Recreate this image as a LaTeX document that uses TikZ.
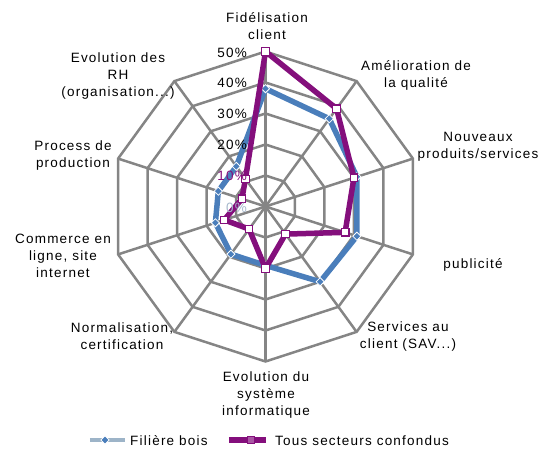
\documentclass[tikz,border=0pt]{standalone}
\usepackage{fontspec}
\setmainfont{Liberation Sans}[LetterSpace=9]
\definecolor{gridgray}{HTML}{858585}
\definecolor{serblue}{HTML}{4A7EBB}
\definecolor{serpurple}{HTML}{840F7C}
\definecolor{zerolbl}{HTML}{A6B8CC}
\definecolor{legblue}{HTML}{9DB4C8}
\tikzset{
  gridline/.style={draw=gridgray, line width=2.5pt, line join=miter},
  blueline/.style={draw=serblue, line width=5.5pt, line join=round},
  purpleline/.style={draw=serpurple, line width=5.5pt, line join=round},
  bluemark/.style={diamond, aspect=1, fill=serblue, draw=white, line width=0.8pt, inner sep=0pt, minimum size=8.5pt},
  purplemark/.style={rectangle, fill=white, draw=serpurple, line width=1.3pt, inner sep=0pt, minimum size=7.5pt},
  catlabel/.style={align=center, inner sep=0pt},
  pctlabel/.style={anchor=east, inner sep=0pt},
}
\usetikzlibrary{shapes.geometric}
\begin{document}
\begin{tikzpicture}[x=1pt,y=1pt, font=\fontsize{13.5}{17}\selectfont]
\useasboundingbox (-265.5,-243.5) rectangle (281.5,206.5);
% grid rings
\foreach \r in {1,...,5} {
  \draw[gridline] (90:\r*31) \foreach \k in {1,...,9} { -- ({90-36*\k}:\r*31) } -- cycle;
}
% spokes
\foreach \k in {0,...,9} {
  \draw[gridline] (0,0) -- ({90-36*\k}:155);
}
% data coordinates
\foreach \v [count=\i from 0] in {38,35,31,31,30,19,19,17,16,16} {
  \coordinate (b\i) at ({90-36*\i}:{\v*3.1});
}
\foreach \v [count=\i from 0] in {50,39,30,27,11,20,9,14,8,11} {
  \coordinate (p\i) at ({90-36*\i}:{\v*3.1});
}
% series
\draw[blueline] (b0) -- (b1) -- (b2) -- (b3) -- (b4) -- (b5) -- (b6) -- (b7) -- (b8) -- (b9) -- cycle;
\foreach \i in {0,...,9} { \node[bluemark] (bm\i) at (b\i) {}; }
\draw[purpleline] (p0) -- (p1) -- (p2) -- (p3) -- (p4) -- (p5) -- (p6) -- (p7) -- (p8) -- (p9) -- cycle;
\foreach \i in {0,...,9} { \node[purplemark] (pm\i) at (p\i) {}; }
% percent labels
\node[pctlabel, text=zerolbl] (t0) at (-18.5,-1) {0\%};
\node[pctlabel, text=serpurple] (t1) at (-18.5,30.5) {10\%};
\node[pctlabel] (t2) at (-18.5,62) {20\%};
\node[pctlabel] (t3) at (-18.5,93) {30\%};
\node[pctlabel] (t4) at (-18.5,124) {40\%};
\node[pctlabel] (t5) at (-18.5,154) {50\%};
% category labels
\node[catlabel] (l0) at (1.5,180) {Fidélisation\\client};
\node[catlabel] (l1) at (150.5,131.5) {Amélioration de\\la qualité};
\node[catlabel] (l2) at (212.5,59.5) {Nouveaux\\produits/services};
\node[catlabel] (l3) at (207.5,-58.5) {publicité};
\node[catlabel] (l4) at (142.5,-130.5) {Services au\\client (SAV...)};
\node[catlabel] (l5) at (0.5,-189) {Evolution du\\système\\informatique};
\node[catlabel] (l6) at (-143.5,-130) {Normalisation,\\certification};
\node[catlabel] (l7) at (-202.5,-49.5) {Commerce en\\ligne, site\\internet};
\node[catlabel] (l8) at (-192.5,50.5) {Process de\\production};
\node[catlabel] (l9) at (-147.5,130.5) {Evolution des\\RH\\(organisation...)};
% legend
\coordinate (lb1) at (-175.5,-233.5);
\coordinate (lb2) at (-140.5,-233.5);
\draw[draw=legblue, line width=4pt] (lb1) -- (lb2);
\node[bluemark] (lbm) at (-160.5,-233.5) {};
\node[anchor=west, inner sep=0pt] (lbt) at (-135.5,-234) {Filière bois};
\coordinate (lp1) at (-36.5,-233.5);
\coordinate (lp2) at (0.5,-233.5);
\draw[purpleline] (lp1) -- (lp2);
\node[purplemark, fill=serpurple!70!white] (lpm) at (-14.5,-233.5) {};
\node[anchor=west, inner sep=0pt] (lpt) at (9.5,-234) {Tous secteurs confondus};
\end{tikzpicture}
\end{document}
